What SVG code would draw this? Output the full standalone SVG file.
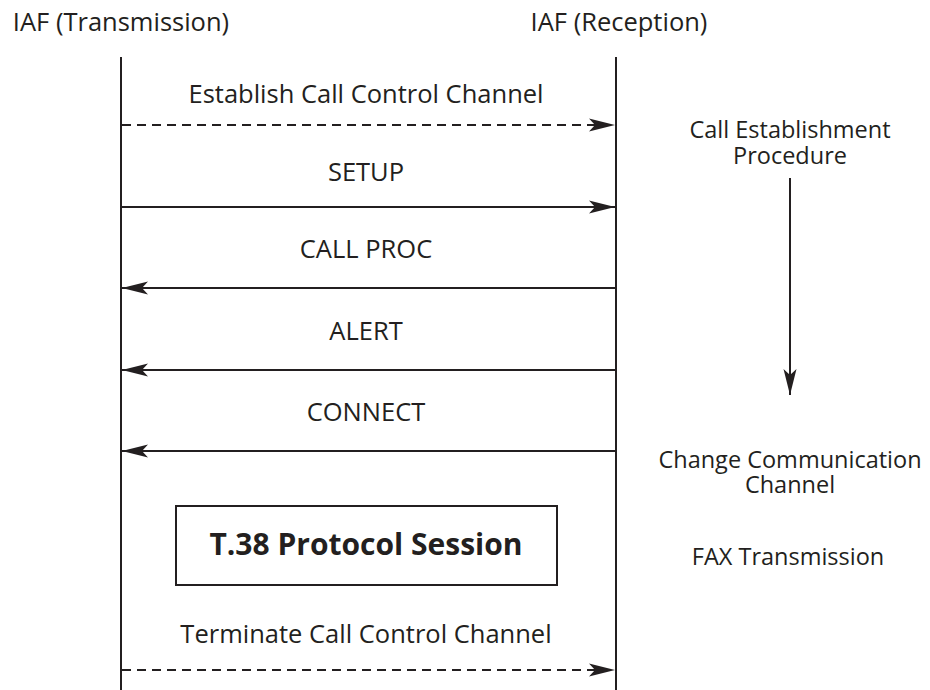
<svg xmlns="http://www.w3.org/2000/svg" width="930" height="690" viewBox="0 0 930 690">
<style>
text{font-family:"Open Sans","Noto Sans","Liberation Sans",sans-serif;font-size:25.5px;fill:#231f20;text-anchor:middle}
.l{fill:none;stroke:#231f20;stroke-width:2}
.d{stroke-dasharray:9,6}
.b{font-weight:bold;font-size:30px}
.n{font-size:23.5px}
</style>
<defs>
<marker id="ah" markerUnits="userSpaceOnUse" markerWidth="28" markerHeight="16" refX="26" refY="8" orient="auto">
<path d="M0,1.5 L26,8 L0,14.5 L6,8 Z" fill="#231f20"/>
</marker>
</defs>
<g id="iaf-tx">
<text x="121" y="31">IAF (Transmission)</text>
<line class="l" x1="121" y1="57" x2="121" y2="690"/>
</g>
<g id="iaf-rx">
<text x="619" y="31">IAF (Reception)</text>
<line class="l" x1="616" y1="57" x2="616" y2="690"/>
</g>
<g id="session">
<rect class="l" x="176" y="506" width="381" height="79"/>
<text class="b" x="366" y="555">T.38 Protocol Session</text>
</g>
<g id="notes">
<text class="n" x="790" y="138">Call Establishment<tspan x="790" dy="26">Procedure</tspan></text>
<text class="n" x="790" y="468">Change Communication<tspan x="790" dy="25">Channel</tspan></text>
<text class="n" x="788" y="565">FAX Transmission</text>
</g>
<g id="connectors">
<line class="l d" x1="122" y1="125" x2="615" y2="125" marker-end="url(#ah)"/>
<line class="l" x1="122" y1="207" x2="615" y2="207" marker-end="url(#ah)"/>
<line class="l" x1="615" y1="288" x2="122" y2="288" marker-end="url(#ah)"/>
<line class="l" x1="615" y1="370" x2="122" y2="370" marker-end="url(#ah)"/>
<line class="l" x1="615" y1="451" x2="122" y2="451" marker-end="url(#ah)"/>
<line class="l d" x1="122" y1="670" x2="615" y2="670" marker-end="url(#ah)"/>
<line class="l" x1="790" y1="178" x2="790" y2="395" marker-end="url(#ah)"/>
<text x="366" y="103">Establish Call Control Channel</text>
<text x="366" y="181">SETUP</text>
<text x="366" y="258">CALL PROC</text>
<text x="366" y="340">ALERT</text>
<text x="366" y="421">CONNECT</text>
<text x="366" y="643">Terminate Call Control Channel</text>
</g>
</svg>
